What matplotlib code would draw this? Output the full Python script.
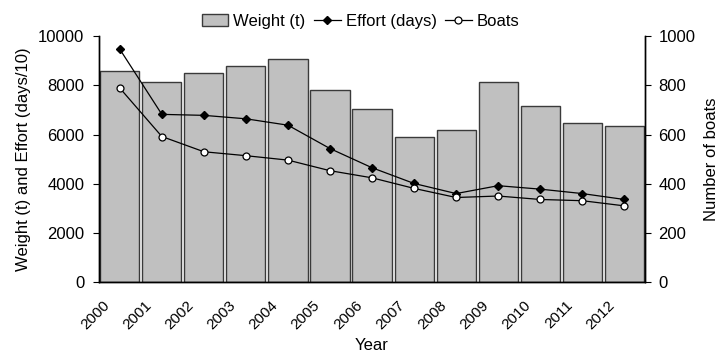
import matplotlib.pyplot as plt
import matplotlib.transforms as mtransforms

plt.rcParams['font.family'] = ['Liberation Sans', 'DejaVu Sans']

years = ['2000', '2001', '2002', '2003', '2004', '2005', '2006',
         '2007', '2008', '2009', '2010', '2011', '2012']
weight = [8600, 8120, 8520, 8780, 9080, 7830, 7050, 5880, 6170, 8130, 7170, 6460, 6340]
effort = [9470, 6820, 6780, 6640, 6380, 5430, 4650, 4010, 3600, 3920, 3780, 3600, 3360]
boats = [789, 592, 530, 514, 496, 453, 424, 381, 344, 350, 336, 331, 310]

fs = 12

fig = plt.figure(figsize=(7.21, 3.58), dpi=100)
ax = fig.add_axes([0.137, 0.212, 0.758, 0.687])
ax2 = ax.twinx()

x = list(range(len(years)))
bars = ax.bar(x, weight, width=0.93, color='#c0c0c0', edgecolor='#3a3a3a',
              linewidth=1.0, label='Weight (t)', zorder=1)
l1, = ax.plot(x, effort, color='black', lw=0.9, marker='D', ms=4,
              mfc='black', mec='black', label='Effort (days)', zorder=3)
l2, = ax2.plot(x, boats, color='black', lw=0.9, marker='o', ms=5,
               mfc='white', mec='black', mew=0.9, label='Boats', zorder=3)

ax.set_xlim(-0.5, len(years) - 0.5)
ax.set_ylim(0, 10000)
ax2.set_ylim(0, 1000)
ax.set_yticks(range(0, 10001, 2000))
ax2.set_yticks(range(0, 1001, 200))

ax.set_xticks(x)
ax.tick_params(axis='x', length=0, pad=11.5, labelsize=11)
ax.tick_params(axis='y', direction='out', length=4, pad=6.5, labelsize=fs)
ax2.tick_params(axis='y', direction='out', length=4, pad=5.5, labelsize=fs)
ax.set_xticklabels(years, rotation=45, ha='right', rotation_mode='anchor')
# shift rotated year labels a bit left of the bar centres
offset = mtransforms.ScaledTranslation(-0.17, 0, fig.dpi_scale_trans)
for lab in ax.get_xticklabels():
    lab.set_transform(lab.get_transform() + offset)

for a in (ax, ax2):
    a.spines['top'].set_visible(False)
    for s in ('left', 'right', 'bottom'):
        a.spines[s].set_linewidth(1.0)

ax.set_ylabel('Weight (t) and Effort (days/10)', fontsize=fs, labelpad=5)
ax2.set_ylabel('Number of boats', fontsize=fs, labelpad=6)
ax.set_xlabel('Year', fontsize=fs, labelpad=4)

fig.legend([bars, l1, l2], ['Weight (t)', 'Effort (days)', 'Boats'],
           loc='center', bbox_to_anchor=(0.5, 0.94), ncol=3, frameon=False,
           fontsize=fs, handlelength=1.6, columnspacing=0.5, handletextpad=0.3)

fig.savefig('out.png', dpi=100)
